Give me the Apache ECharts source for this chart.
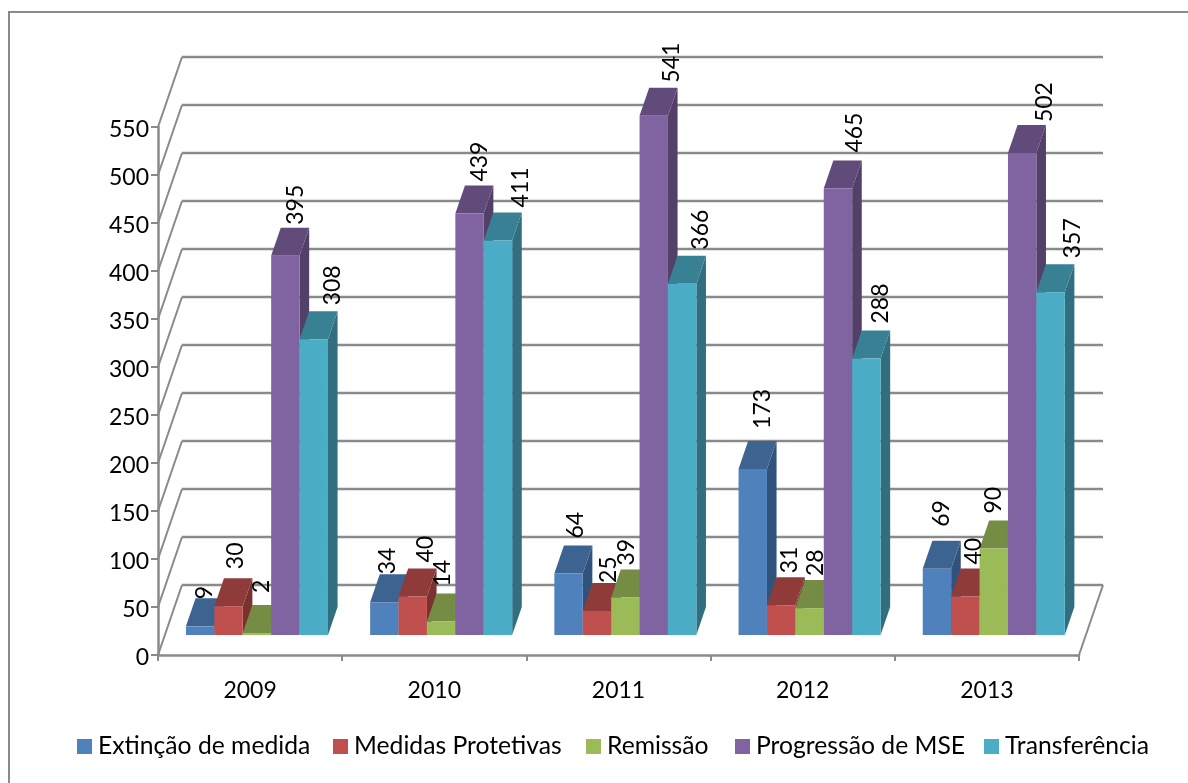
<!DOCTYPE html>
<html><head><meta charset="utf-8">
<style>html,body{margin:0;padding:0;background:#fff}#c{width:1188px;height:783px}</style>
<script src="https://cdn.jsdelivr.net/npm/echarts@6/dist/echarts.min.js"></script>
</head><body><div id="c"></div>
<script>
const years = ['2009','2010','2011','2012','2013'];
const extincao = [9,34,64,173,69];
const protetivas = [30,40,25,31,40];
const remissao = [2,14,39,28,90];
const progressao = [395,439,541,465,502];
const transferencia = [308,411,366,288,357];
const seriesNames = ['Extinção de medida','Medidas Protetivas','Remissão','Progressão de MSE','Transferência'];
const gridTicks = [0,50,100,150,200,250,300,350,400,450,500,550];

// label nudges relative to the top of each bar (Excel's hand-placed labels)
const nudgeX = [[-5,-3,-5,1,9],[-6,3,-8,0,13],[-3,2,-8,8,9],[0,-1,-4,7,5],[-5,-1,-10,13,12]];
const nudgeY = [[1,-9,-12,-3,-6],[0,-6,-7,-4,-5],[-7,0,-4,-5,-6],[-12,-4,-4,-8,-7],[-14,-4,-7,-3,-6]];
const legendLefts = [77,333,586,735,984];

const allValues = [extincao,protetivas,remissao,progressao,transferencia];
const faces = [
 {front:'#4F81BD',top:'#3D6390',side:'#31527A'},
 {front:'#C0504D',top:'#8F3B39',side:'#7A3230'},
 {front:'#9BBB59',top:'#748C43',side:'#5F7337'},
 {front:'#8064A2',top:'#604B7A',side:'#524068'},
 {front:'#4BACC6',top:'#388195',side:'#316F80'}
];
const DX = 24, DY = 70;            // projection of the full chart depth
const BAR_START = 20/70, BAR_DEPTH = 28/70;
const FONT = 'Lato, Carlito, sans-serif';
const GRID = '#8A8A8A';

function gridItem(params, api){
  const v = api.value(0);
  const w = api.size([1,0])[0];
  const a = api.coord([0,v]), b = api.coord([4,v]);
  const xl = a[0]-w/2, xr = b[0]+w/2, y = a[1];
  const kids = [
    {type:'polyline',shape:{points:[[xl,y],[xl+DX,y-DY]]},style:{stroke:GRID,lineWidth:2,fill:null}},
    {type:'line',shape:{x1:xl+DX,y1:y-DY,x2:xr+DX,y2:y-DY},style:{stroke:GRID,lineWidth:2.5}}
  ];
  if(v===0) kids.push({type:'line',shape:{x1:xr,y1:y,x2:xr+DX,y2:y-DY},style:{stroke:GRID,lineWidth:2}});
  return {type:'group',children:kids};
}
function barGeom(api,cat,si,val){
  const w = api.size([1,0])[0];
  const bw = w/6.485;
  const c0 = api.coord([cat,0]), c1 = api.coord([cat,val]);
  const offX = DX*BAR_START, offY = DY*BAR_START;
  const x0 = c0[0] - 2.5*bw + offX + si*bw;
  return {x0,x1:x0+bw,yb:c0[1]-offY,yt:c1[1]-offY,dx:DX*BAR_DEPTH,dy:DY*BAR_DEPTH};
}
function barItem(si){
  return function(params, api){
    const g = barGeom(api, api.value(0), si, api.value(1));
    const f = faces[si];
    return {type:'group',children:[
      {type:'polygon',shape:{points:[[g.x1,g.yb],[g.x1+g.dx,g.yb-g.dy],[g.x1+g.dx,g.yt-g.dy],[g.x1,g.yt]]},style:{fill:f.side}},
      {type:'polygon',shape:{points:[[g.x0,g.yt],[g.x0+g.dx,g.yt-g.dy],[g.x1+g.dx,g.yt-g.dy],[g.x1,g.yt]]},style:{fill:f.top}},
      {type:'rect',shape:{x:g.x0,y:g.yt,width:g.x1-g.x0,height:g.yb-g.yt},style:{fill:f.front}}
    ]};
  };
}
function labelItem(params, api){
  const cat=api.value(0), val=api.value(1), si=api.value(2);
  const g = barGeom(api,cat,si,val);
  const x = (g.x0+g.x1)/2+g.dx+nudgeX[cat][si];
  const y = g.yt-g.dy+nudgeY[cat][si];
  return {type:'text',x:x,y:y,rotation:Math.PI/2,
    style:{text:String(val),fill:'#000',font:'23px '+FONT,textAlign:'left',textVerticalAlign:'middle'}};
}
const labelData = [];
allValues.forEach((vals,si)=>vals.forEach((v,c)=>labelData.push([c,v,si])));

const series = [{type:'custom',name:'grade',silent:true,clip:false,z:1,renderItem:gridItem,data:gridTicks.map(v=>[v]),encode:{y:0},animation:false}];
allValues.forEach((vals,si)=>{
  series.push({type:'custom',name:seriesNames[si],clip:false,z:2+si,animation:false,
    renderItem:barItem(si),itemStyle:{color:faces[si].front},
    data:vals.map((v,c)=>[c,v]),encode:{x:0,y:1}});
});
series.push({type:'custom',name:'rotulos',silent:true,clip:false,z:20,animation:false,renderItem:labelItem,data:labelData,encode:{x:0,y:1}});

const chart = echarts.init(document.getElementById('c'),null,{renderer:'canvas'});
chart.setOption({
  animation:false,
  backgroundColor:'#fff',
  textStyle:{fontFamily:FONT},
  graphic:[{type:'polyline',silent:true,shape:{points:[[9,800],[9,12],[1200,12]]},style:{stroke:'#8A8A8A',lineWidth:2,fill:null}}],
  grid:{left:158,right:109,top:127,bottom:128,containLabel:false},
  legend:seriesNames.map((n,i)=>({left:legendLefts[i],top:734,padding:[0,0,0,0],itemWidth:15,itemHeight:15,itemGap:0,icon:'rect',
    data:[n],textStyle:{fontFamily:FONT,fontSize:24.7,color:'#000',padding:[0,0,0,1]}})),
  xAxis:{type:'category',data:years,boundaryGap:true,
    axisLine:{lineStyle:{color:GRID,width:2.5}},axisTick:{show:true,length:6,lineStyle:{color:GRID,width:2}},
    axisLabel:{color:'#000',fontSize:23,fontFamily:FONT,margin:24},splitLine:{show:false}},
  yAxis:{type:'value',min:0,max:550,interval:50,
    axisLine:{show:true,lineStyle:{color:GRID,width:2.5}},axisTick:{show:true,length:7,lineStyle:{color:GRID,width:2}},
    axisLabel:{color:'#000',fontSize:23,fontFamily:FONT,margin:9,verticalAlign:'top',lineHeight:6},splitLine:{show:false}},
  series:series
});
</script></body></html>
